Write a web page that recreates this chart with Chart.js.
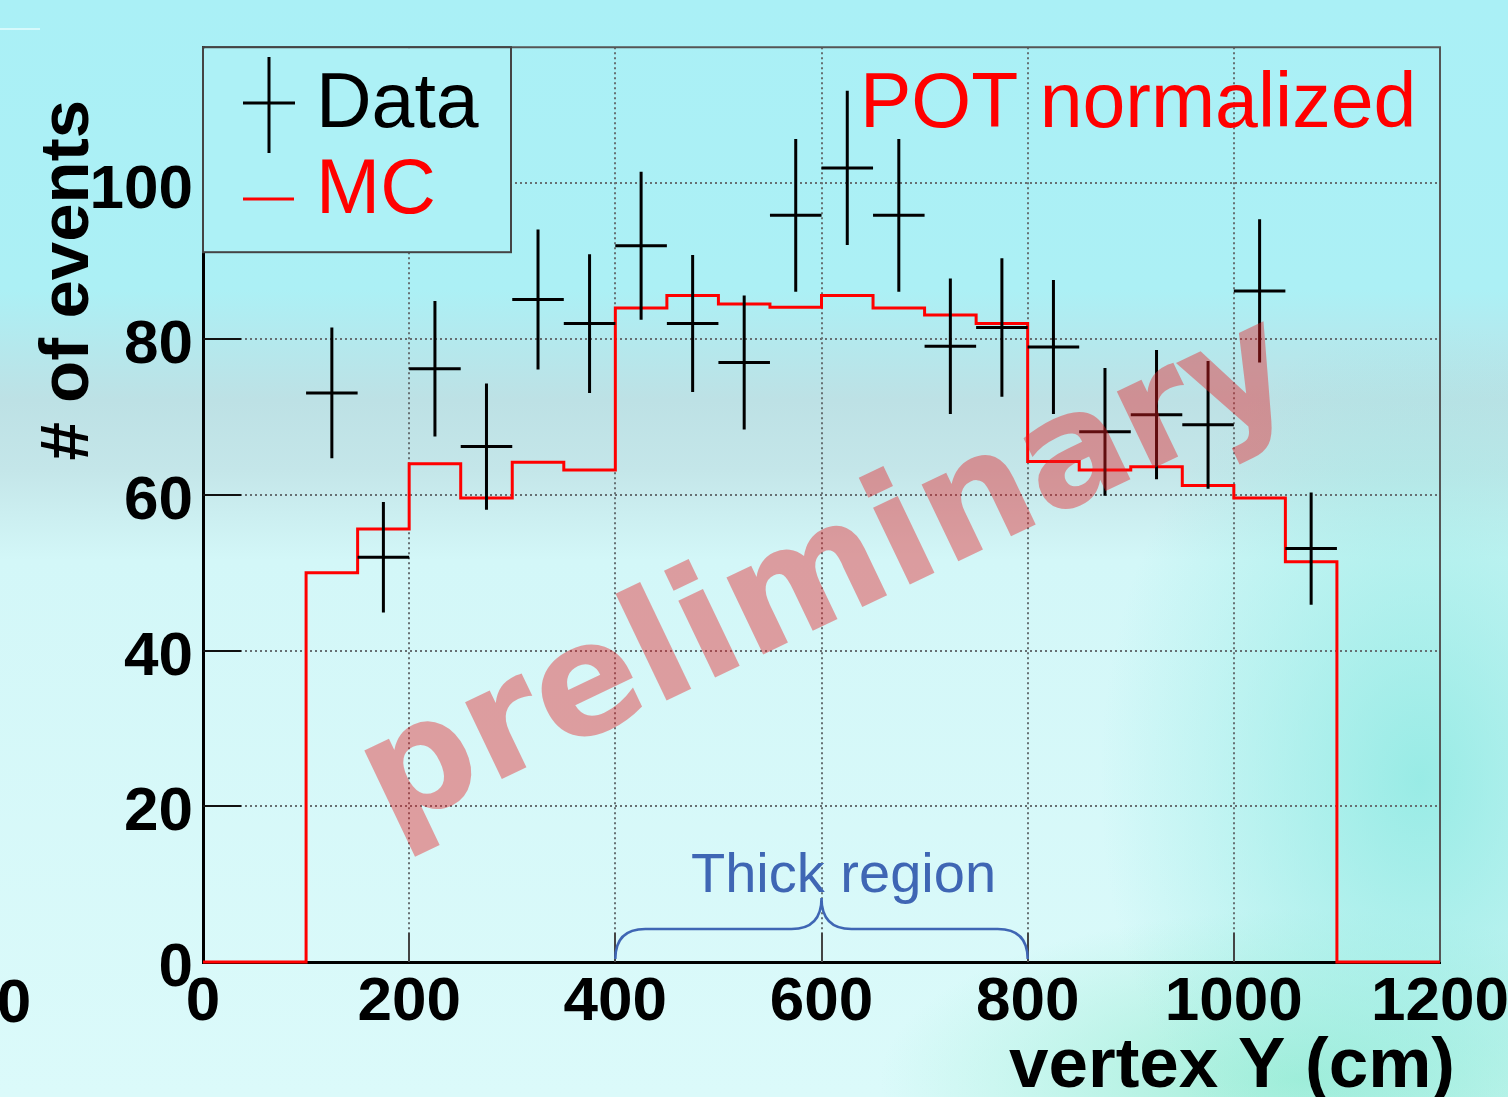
<!DOCTYPE html>
<html>
<head>
<meta charset="utf-8">
<title>vertex Y</title>
<script src="https://cdn.jsdelivr.net/npm/chart.js@4.4.1/dist/chart.umd.min.js"></script>
<style>
  html, body { margin: 0; padding: 0; overflow: hidden; }
  #wrap {
    position: relative;
    width: 1508px;
    height: 1097px;
    background:
      radial-gradient(ellipse 320px 460px at 1420px 780px, rgba(142, 233, 226, 0.85), rgba(142, 233, 226, 0) 100%),
      radial-gradient(ellipse 420px 170px at 1300px 1080px, rgba(160, 238, 214, 0.95), rgba(160, 238, 214, 0) 100%),
      linear-gradient(to bottom, #aaf0f6 0px, #acf0f5 290px, #bde1e5 400px, #c4e6e9 470px, #d3f7f8 560px, #dbfafa 1097px);
  }
</style>
</head>
<body>
<div id="wrap"><canvas id="vertexChart"></canvas></div>
<script>
// MC histogram: lower bin edges (cm) and heights
const binLowEdges = [100, 150, 200, 250, 300, 350, 400, 450, 500, 550, 600, 650, 700, 750, 800, 850, 900, 950, 1000, 1050];
const mcCounts = [50.0, 55.6, 64.0, 59.6, 64.2, 63.2, 84.0, 85.6, 84.5, 84.1, 85.6, 84.0, 83.1, 82.0, 64.3, 63.2, 63.6, 61.2, 59.6, 51.4];
const binWidth = 50;

// data points at bin centres with vertical errors
const dataCenters = [125, 175, 225, 275, 325, 375, 425, 475, 525, 575, 625, 675, 725, 775, 825, 875, 925, 975, 1025, 1075];
const dataCounts = [73.1, 52.0, 76.2, 66.2, 85.1, 82.0, 92.0, 82.0, 77.0, 95.9, 102.0, 95.9, 79.1, 81.5, 79.0, 68.1, 70.3, 69.0, 86.2, 53.1];
const dataErrors = [8.4, 7.1, 8.7, 8.1, 9.0, 8.9, 9.5, 8.8, 8.6, 9.8, 9.9, 9.8, 8.7, 8.9, 8.6, 8.2, 8.3, 8.2, 9.2, 7.2];

const xTickValues = [0, 200, 400, 600, 800, 1000, 1200];
const yTickValues = [0, 20, 40, 60, 80, 100];
const xRange = [0, 1200];
const yRange = [0, 117.5];
const thickRegion = [400, 800];

const FONT = "'Liberation Sans', Arial, sans-serif";

// histogram outline as stepped line through the bin edges
const mcPoints = [{ x: xRange[0], y: 0 }];
binLowEdges.forEach((lo, i) => mcPoints.push({ x: lo, y: mcCounts[i] }));
mcPoints.push({ x: binLowEdges[binLowEdges.length - 1] + binWidth, y: 0 });
mcPoints.push({ x: xRange[1], y: 0 });

const dataPoints = dataCenters.map((c, i) => ({ x: c, y: dataCounts[i] }));

const decorPlugin = {
  id: "decor",
  beforeDatasetsDraw(chart) {
    const { ctx, chartArea: a, scales: { x, y } } = chart;
    ctx.save();
    // frame top / right
    ctx.strokeStyle = "#555";
    ctx.lineWidth = 2;
    ctx.beginPath();
    ctx.moveTo(a.left, a.top);
    ctx.lineTo(a.right, a.top);
    ctx.lineTo(a.right, a.bottom);
    ctx.stroke();
    // inner tick marks
    ctx.strokeStyle = "#111";
    ctx.lineWidth = 2;
    yTickValues.forEach((v) => {
      if (v === 0) return;
      const py = Math.round(y.getPixelForValue(v));
      ctx.beginPath();
      ctx.moveTo(a.left, py);
      ctx.lineTo(a.left + 38, py);
      ctx.stroke();
    });
    ctx.strokeStyle = "#444";
    xTickValues.forEach((v) => {
      if (v === xRange[0] || v === xRange[1]) return;
      const px = Math.round(x.getPixelForValue(v));
      ctx.beginPath();
      ctx.moveTo(px, a.bottom);
      ctx.lineTo(px, a.bottom - 29);
      ctx.stroke();
    });
    ctx.restore();
  },
  afterDatasetsDraw(chart) {
    const { ctx, chartArea: a, scales: { x, y } } = chart;
    ctx.save();

    // data crosses
    const meta = chart.getDatasetMeta(1);
    ctx.strokeStyle = "#000";
    ctx.lineWidth = 3;
    meta.data.forEach((pt, i) => {
      const x0 = x.getPixelForValue(dataCenters[i] - binWidth / 2);
      const x1 = x.getPixelForValue(dataCenters[i] + binWidth / 2);
      const y0 = y.getPixelForValue(dataCounts[i] - dataErrors[i]);
      const y1 = y.getPixelForValue(dataCounts[i] + dataErrors[i]);
      ctx.beginPath();
      ctx.moveTo(x0, pt.y);
      ctx.lineTo(x1, pt.y);
      ctx.moveTo(pt.x, y0);
      ctx.lineTo(pt.x, y1);
      ctx.stroke();
    });

    // legend box
    ctx.fillStyle = "#adf1f6";
    ctx.fillRect(a.left + 1, a.top + 1, 307, 204);
    ctx.strokeStyle = "#444";
    ctx.lineWidth = 2;
    ctx.strokeRect(a.left, a.top, 308, 205);
    ctx.strokeStyle = "#000";
    ctx.lineWidth = 3;
    ctx.beginPath();
    ctx.moveTo(269, 57);
    ctx.lineTo(269, 153);
    ctx.moveTo(243, 103);
    ctx.lineTo(295, 103);
    ctx.stroke();
    ctx.strokeStyle = "#ff0000";
    ctx.beginPath();
    ctx.moveTo(243, 199);
    ctx.lineTo(294, 199);
    ctx.stroke();
    ctx.font = "77px " + FONT;
    ctx.textAlign = "left";
    ctx.textBaseline = "alphabetic";
    ctx.fillStyle = "#000";
    ctx.fillText("Data", 316, 127);
    ctx.fillStyle = "#ff0000";
    ctx.fillText("MC", 316, 213);

    // watermark
    ctx.save();
    ctx.translate(846, 615);
    ctx.rotate(-25.5 * Math.PI / 180);
    ctx.font = "bold 156px 'DejaVu Sans', sans-serif";
    ctx.textAlign = "center";
    ctx.fillStyle = "rgba(232, 32, 36, 0.42)";
    ctx.fillText("preliminary", 0, 0);
    ctx.restore();

    ctx.restore();
  },
  afterDraw(chart) {
    const { ctx, chartArea: a, scales: { x } } = chart;
    ctx.save();
    ctx.textBaseline = "alphabetic";

    // POT normalized label
    ctx.fillStyle = "#ff0000";
    ctx.font = "77px " + FONT;
    ctx.textAlign = "left";
    ctx.fillText("POT normalized", 860, 127);

    // thick region brace
    const bl = x.getPixelForValue(thickRegion[0]);
    const br = x.getPixelForValue(thickRegion[1]);
    const bm = (bl + br) / 2;
    const yb = a.bottom - 3;
    const yf = a.bottom - 33;
    const yc = a.bottom - 64;
    ctx.strokeStyle = "#3f66b4";
    ctx.lineWidth = 2.5;
    ctx.beginPath();
    ctx.moveTo(bl, yb);
    ctx.quadraticCurveTo(bl, yf, bl + 30, yf);
    ctx.lineTo(bm - 30, yf);
    ctx.quadraticCurveTo(bm, yf, bm, yc);
    ctx.quadraticCurveTo(bm, yf, bm + 30, yf);
    ctx.lineTo(br - 30, yf);
    ctx.quadraticCurveTo(br, yf, br, yb);
    ctx.stroke();
    ctx.fillStyle = "#3f66b4";
    ctx.font = "56px " + FONT;
    ctx.fillText("Thick region", 691, 892);

    // axis titles
    ctx.fillStyle = "#000";
    ctx.font = "bold 71px " + FONT;
    ctx.textAlign = "right";
    ctx.fillText("vertex Y (cm)", 1455, 1087);
    ctx.save();
    ctx.translate(88, 100);
    ctx.rotate(-Math.PI / 2);
    ctx.font = "bold 69px " + FONT;
    ctx.textAlign = "right";
    ctx.fillText("# of events", 0, 0);
    ctx.restore();

    // stray label at the left edge
    ctx.font = "bold 62px " + FONT;
    ctx.textAlign = "center";
    ctx.fillText("0", 14, 1022);
    ctx.strokeStyle = "rgba(235, 255, 255, 0.9)";
    ctx.lineWidth = 1.5;
    ctx.beginPath();
    ctx.moveTo(0, 29);
    ctx.lineTo(40, 29);
    ctx.stroke();
    ctx.restore();
  }
};

const canvas = document.getElementById("vertexChart");

new Chart(canvas, {
  data: {
    datasets: [
      {
        type: "line",
        label: "MC",
        data: mcPoints,
        stepped: "before",
        borderColor: "#ff0000",
        borderWidth: 3,
        pointRadius: 0,
        fill: false,
        clip: 6
      },
      {
        type: "scatter",
        label: "Data",
        data: dataPoints,
        pointRadius: 0,
        showLine: false
      }
    ]
  },
  options: {
    responsive: true,
    maintainAspectRatio: false,
    animation: false,
    events: [],
    layout: { padding: { top: 45, right: 68, left: 0, bottom: 0 } },
    plugins: {
      legend: { display: false },
      tooltip: { enabled: false }
    },
    scales: {
      x: {
        type: "linear",
        position: "bottom",
        min: xRange[0],
        max: xRange[1],
        afterBuildTicks(scale) {
          scale.ticks = xTickValues.map((v) => ({ value: v }));
        },
        afterFit(scale) {
          scale.height = 135;
          // let the last label run past the plot edge as in the original
          scale.paddingLeft = 0;
          scale.paddingRight = 0;
        },
        ticks: {
          color: "#000",
          padding: 4,
          maxRotation: 0,
          callback: (v) => String(v),
          font: { family: FONT, size: 62, weight: "bold" }
        },
        grid: {
          drawTicks: false,
          lineWidth: 2,
          color: (c) => (c.tick && (c.tick.value === xRange[0] || c.tick.value === xRange[1]) ? "rgba(0,0,0,0)" : "#666f72")
        },
        border: { color: "#000", width: 3, dash: [2, 3] }
      },
      y: {
        type: "linear",
        position: "left",
        min: yRange[0],
        max: yRange[1],
        afterBuildTicks(scale) {
          scale.ticks = yTickValues.map((v) => ({ value: v }));
        },
        afterFit(scale) {
          scale.width = 203;
        },
        ticks: {
          color: "#000",
          padding: 10,
          labelOffset: 7,
          callback: (v) => String(v),
          font: { family: FONT, size: 62, weight: "bold" }
        },
        grid: {
          drawTicks: false,
          lineWidth: 2,
          color: (c) => (c.tick && c.tick.value === 0 ? "rgba(0,0,0,0)" : "#666f72")
        },
        border: { color: "#000", width: 3, dash: [2, 3] }
      }
    }
  },
  plugins: [decorPlugin]
});
</script>
</body>
</html>
